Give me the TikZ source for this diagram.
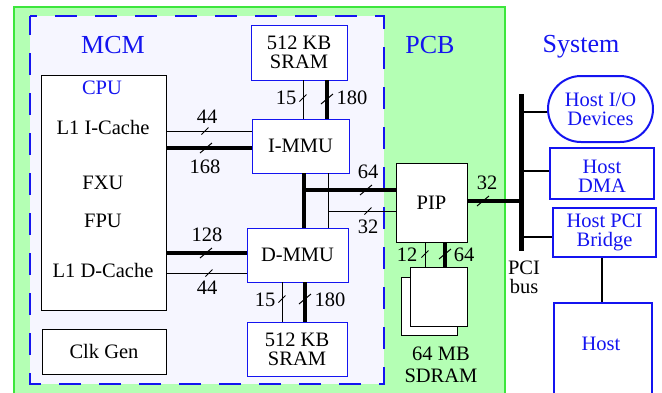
\documentclass[tikz,border=0pt]{standalone}
\usepackage{fontspec}
\setmainfont{Liberation Serif}
\definecolor{blueC}{RGB}{20,20,240}
\definecolor{pcbG}{RGB}{180,255,180}
\definecolor{pcbB}{RGB}{60,230,60}
\definecolor{mcmF}{RGB}{246,246,255}
\begin{document}
\begin{tikzpicture}[x=1pt,y=-1pt,
  txt/.style={font=\fontsize{20.5}{19}\selectfont, inner sep=0pt, align=center},
  lbl/.style={txt},
  big/.style={font=\fontsize{26}{28}\selectfont, text=blueC, inner sep=0pt},
  box/.style={draw=black, line width=0.9pt, fill=white, inner sep=0pt, align=center, font=\fontsize{20.5}{19}\selectfont},
  bbox/.style={box, draw=blueC},
  hbox/.style={box, draw=blueC, line width=2pt, text=blueC},
  thinline/.style={line width=1pt},
  fatline/.style={line width=4.5pt},
  busline/.style={line width=2pt},
  cutS/.pic={\draw[line width=1pt] (-3.5,3.5) -- (3.5,-3.5);},
  cutL/.pic={\draw[line width=1pt] (-6,5) -- (6,-5);}
  ]
\useasboundingbox (0,0) rectangle (662,392);
\clip (0,0) rectangle (662,392);
% PCB
\fill[pcbG] (14,7) rectangle (505,400);
\draw[pcbB, line width=1.2pt] (14,400) -- (14,7) -- (505,7) -- (505,400);
% MCM
\fill[mcmF] (30,16) rectangle (384,384);
\draw[blueC, line width=1.8pt, dash pattern=on 22pt off 18pt, dash phase=15pt] (30,16) -- (384,16) -- (384,384) -- (30,384) -- cycle;
\node[big] (mcmL) at (113,45) {MCM};
\node[big] (pcbL) at (430,45) {PCB};
\node[big] (sysL) at (581,47) {System};
% CPU
\node[box, minimum width=125pt, minimum height=235pt] (cpu) at (103.5,192.5) {};
\node[txt, text=blueC] (cpuL) at (102,88) {CPU};
\node[txt] (l1i) at (103,127) {L1 I-Cache};
\node[txt] (fxu) at (103,183) {FXU};
\node[txt] (fpu) at (103,221) {FPU};
\node[txt] (l1d) at (103,270) {L1 D-Cache};
\node[box, minimum width=124pt, minimum height=45pt] (clk) at (104,351.5) {Clk Gen};
% SRAMs and MMUs
\node[bbox, minimum width=96pt, minimum height=55pt] (sramT) at (299,52.5) {512 KB\\SRAM};
\node[bbox, minimum width=97pt, minimum height=54pt] (immu) at (300.5,146) {I-MMU};
\node[bbox, minimum width=101pt, minimum height=54pt] (dmmu) at (297.5,255) {D-MMU};
\node[bbox, minimum width=100pt, minimum height=54pt] (sramB) at (297,349) {512 KB\\SRAM};
% PIP and SDRAM
\node[box, minimum width=71pt, minimum height=79pt] (pip) at (431.5,202.5) {PIP};
\node[box, minimum width=56pt, minimum height=58pt] (sdB) at (429,306) {};
\node[box, minimum width=57pt, minimum height=59pt] (sdF) at (438.5,296.5) {};
\node[txt, font=\fontsize{20.5}{22}\selectfont] (sdL) at (441,365) {64 MB\\SDRAM};
% System
\node[hbox, rounded corners=33pt, minimum width=105pt, minimum height=66pt] (hio) at (600.5,109) {Host I/O\\Devices};
\node[hbox, minimum width=104pt, minimum height=51pt] (hdma) at (602,173.5) {};
\node[txt, text=blueC] (hdmaL) at (602,176) {Host\\DMA};
\node[hbox, minimum width=103pt, minimum height=49pt] (brg) at (604.5,232.5) {Host PCI\\Bridge};
\node[hbox, minimum width=98pt, minimum height=100pt] (host) at (603,353) {};
\node[txt, text=blueC] (hostL) at (601,344) {Host};
\coordinate (busT) at (521,94);
\coordinate (busB) at (521,251);
\draw[line width=5pt] (busT) -- (busB);
\node[txt] (pciL) at (524,277) {PCI\\bus};
\draw[busline] (busT |- 0,112) -- (hio.west |- 0,112);
\draw[busline] (busT |- 0,171) -- (hdma.west |- 0,171);
\draw[busline] (busT |- 0,237) -- (brg.west |- 0,237);
\draw[busline] (brg.south -| 602,0) -- (host.north -| 602,0);
% PIP to bus
\draw[fatline] (pip.east |- 0,201) -- (busT |- 0,201);
\pic at (483,201) {cutL};
\node[lbl] (l32b) at (487,183) {32};
% CPU to MMUs
\draw[thinline] (cpu.east |- 0,131) -- (immu.west |- 0,131);
\draw[fatline] (cpu.east |- 0,148) -- (immu.west |- 0,148);
\pic at (205,131) {cutS};
\pic at (206,148) {cutL};
\node[lbl] (l44a) at (207,117) {44};
\node[lbl] (l168) at (205,167) {168};
\draw[fatline] (cpu.east |- 0,253) -- (dmmu.west |- 0,253);
\draw[thinline] (cpu.east |- 0,273) -- (dmmu.west |- 0,273);
\pic at (206,253) {cutL};
\pic at (209,273) {cutS};
\node[lbl] (l128) at (207,235) {128};
\node[lbl] (l44b) at (207,288) {44};
% SRAM top to I-MMU
\draw[thinline] (sramT.south -| 303,0) -- (immu.north -| 303,0);
\draw[fatline] (sramT.south -| 327,0) -- (immu.north -| 327,0);
\pic at (303,98) {cutS};
\pic at (327,99) {cutL};
\node[lbl] (l15a) at (286,98) {15};
\node[lbl] (l180a) at (352,98) {180};
% D-MMU to SRAM bottom
\draw[thinline] (dmmu.south -| 282,0) -- (sramB.north -| 282,0);
\draw[fatline] (dmmu.south -| 305,0) -- (sramB.north -| 305,0);
\pic at (282,299) {cutS};
\pic at (305,299) {cutL};
\node[lbl] (l15b) at (265,300) {15};
\node[lbl] (l180b) at (330,300) {180};
% MMUs to PIP
\draw[fatline] (immu.south -| 304,0) -- (dmmu.north -| 304,0);
\coordinate (j64) at (304,190);
\draw[fatline] (j64) -- (pip.west |- j64);
\draw[thinline] (immu.south -| 328,0) -- (dmmu.north -| 328,0);
\coordinate (j32) at (328,211);
\draw[thinline] (j32) -- (pip.west |- j32);
\pic at (366,190) {cutL};
\pic at (368,211) {cutS};
\node[lbl] (l64a) at (368,172) {64};
\node[lbl] (l32a) at (368,227) {32};
% PIP to SDRAM
\draw[thinline] (pip.south -| 425,0) -- (sdF.north -| 425,0);
\draw[fatline] (pip.south -| 445,0) -- (sdF.north -| 445,0);
\pic at (425,254) {cutS};
\pic at (445,254) {cutL};
\node[lbl] (l12) at (407,255) {12};
\node[lbl] (l64b) at (464,255) {64};
\end{tikzpicture}
\end{document}
